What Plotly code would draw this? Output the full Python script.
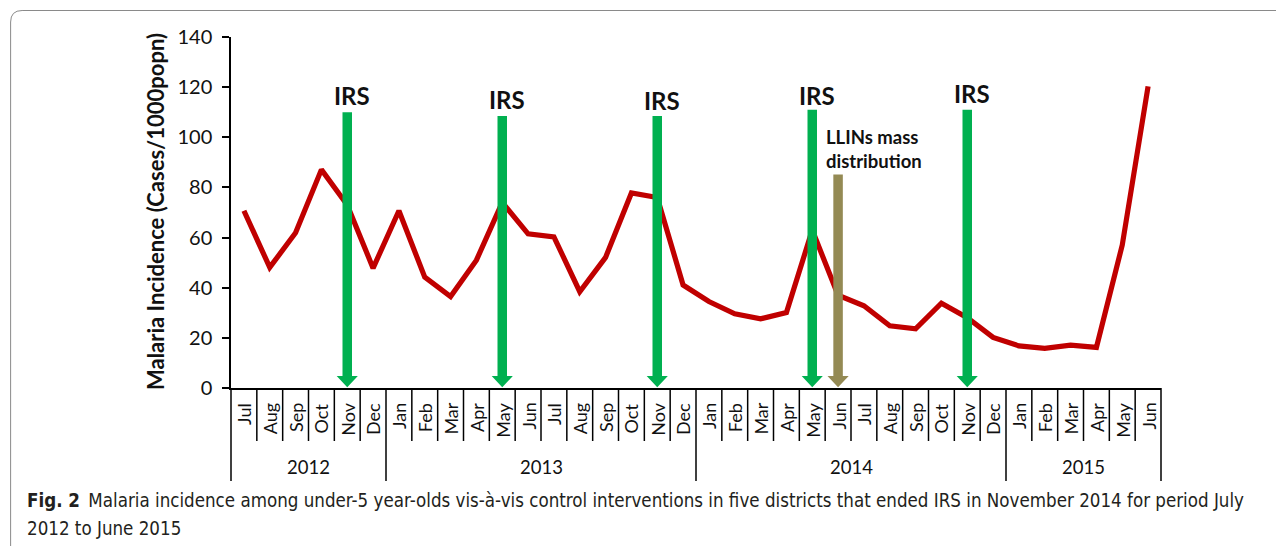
import plotly.graph_objects as go

# ---------------- data ----------------
months = ["Jul", "Aug", "Sep", "Oct", "Nov", "Dec",
          "Jan", "Feb", "Mar", "Apr", "May", "Jun", "Jul", "Aug", "Sep", "Oct", "Nov", "Dec",
          "Jan", "Feb", "Mar", "Apr", "May", "Jun", "Jul", "Aug", "Sep", "Oct", "Nov", "Dec",
          "Jan", "Feb", "Mar", "Apr", "May", "Jun"]
years = ["2012"] * 6 + ["2013"] * 12 + ["2014"] * 12 + ["2015"] * 6
incidence = [70.7, 48.1, 61.9, 87.1, 73.0, 47.8,
             70.7, 44.2, 36.5, 51.0, 74.0, 61.5, 60.3, 38.4, 52.1, 77.8, 76.0, 41.1,
             34.5, 29.6, 27.6, 30.1, 63.0, 37.0, 32.8, 24.8, 23.6, 33.8, 28.0, 20.2,
             16.8, 15.8, 17.1, 16.2, 57.0, 120.3]

irs_dates = [("Nov", "2012"), ("May", "2013"), ("Nov", "2013"), ("May", "2014"), ("Nov", "2014")]
irs_tops = [110.0, 108.5, 108.5, 111.0, 111.0]
irs_label_y = [116.5, 115.0, 114.6, 116.5, 117.3]
irs_label = "IRS"

llin_date = ("Jun", "2014")
llin_top = 85.2
llin_label = "LLINs mass<br>distribution"
llin_label_y = 95.5

y_title = "Malaria Incidence (Cases/1000popn)"
caption_bold = "Fig. 2"
caption_line1 = ("Malaria incidence among under-5 year-olds vis-à-vis control interventions "
                 "in five districts that ended IRS in November 2014 for period July")
caption_line2 = "2012 to June 2015"

# ---------------- layout geometry (screen px; page body has an 8px margin) ----------------
OFF = 8
W, H = 1284 - OFF, 546 - OFF
L, R, T, B = 231, 1161.5, 37, 388
XMIN, XMAX = -0.5, len(months) - 0.5


def px_x(px):
    return (px - L) / (R - L)


def px_y(py):
    return (B - py) / (B - T)


def xpaper(v):
    return (v - XMIN) / (XMAX - XMIN)


FONT = "Lato, 'Noto Sans', sans-serif"
CAPFONT = "'Liberation Sans Narrow', 'DejaVu Sans Condensed', 'Noto Sans', sans-serif"
keys = list(zip(months, years))
xs = list(range(len(months)))

fig = go.Figure()
fig.add_trace(go.Scatter(x=xs, y=incidence, mode="lines",
                         line=dict(color="#c00000", width=5.2),
                         hoverinfo="skip", showlegend=False))

shapes = []
annotations = []


def add_arrow(idx, top, color):
    shapes.append(dict(type="line", xref="x", yref="y", x0=idx, x1=idx, y0=4.6, y1=top,
                       line=dict(color=color, width=9.5), layer="above"))
    shapes.append(dict(type="path", xref="x", yref="y",
                       path=f"M {idx-0.41},{4.8} L {idx+0.41},{4.8} L {idx},{0.3} Z",
                       fillcolor=color, line=dict(width=0), layer="above"))


for d, top, ly in zip(irs_dates, irs_tops, irs_label_y):
    idx = keys.index(d)
    add_arrow(idx, top, "#00b050")
    annotations.append(dict(x=idx, y=ly, xref="x", yref="y", text=f"<b>{irs_label}</b>",
                            showarrow=False, xshift=5,
                            font=dict(family=FONT, size=24, color="#111")))

li = keys.index(llin_date)
add_arrow(li, llin_top, "#948a54")
annotations.append(dict(x=li, y=llin_label_y, xref="x", yref="y",
                        text=f"<b>{llin_label}</b>", showarrow=False, align="left",
                        xanchor="left", xshift=-14,
                        font=dict(family=FONT, size=18.5, color="#111")))

# month tick lines and labels below axis
for b in range(len(months) + 1):
    is_year = b == 0 or b == len(months) or years[b] != years[b - 1]
    bottom = 481 if is_year else 441
    shapes.append(dict(type="line", xref="paper", yref="paper",
                       x0=xpaper(b - 0.5), x1=xpaper(b - 0.5), y0=px_y(B), y1=px_y(bottom),
                       line=dict(color="black", width=1.5)))

for i, m in enumerate(months):
    annotations.append(dict(x=i, y=px_y(401), xref="x", yref="paper", text=m,
                            showarrow=False, textangle=-90, yanchor="top",
                            font=dict(family=FONT, size=18, color="#111")))

for yr in sorted(set(years)):
    ids = [i for i, y in enumerate(years) if y == yr]
    annotations.append(dict(x=(ids[0] + ids[-1]) / 2, y=px_y(467), xref="x", yref="paper",
                            text=yr, showarrow=False, yanchor="middle",
                            font=dict(family=FONT, size=18.5, color="#111")))

# y-axis title
annotations.append(dict(x=px_x(155), y=px_y(212), xref="paper", yref="paper",
                        xanchor="center", yanchor="middle",
                        text=f"<b>{y_title}</b>", showarrow=False, textangle=-90,
                        font=dict(family=FONT, size=22, color="#111")))

# caption
annotations.append(dict(x=px_x(25), y=px_y(501), xref="paper", yref="paper",
                        xanchor="left", yanchor="middle", showarrow=False,
                        text=f"<b>{caption_bold}</b>\u2002{caption_line1}",
                        font=dict(family=CAPFONT, size=18.6, color="#231f20")))
annotations.append(dict(x=px_x(25), y=px_y(528), xref="paper", yref="paper",
                        xanchor="left", yanchor="middle", showarrow=False,
                        text=caption_line2,
                        font=dict(family=CAPFONT, size=18.6, color="#231f20")))

# outer rounded frame
shapes.append(dict(type="path", xref="paper", yref="paper",
                   path=(f"M {px_x(1300)},{px_y(10.5)} L {px_x(22)},{px_y(10.5)} "
                         f"Q {px_x(10.5)},{px_y(10.5)} {px_x(10.5)},{px_y(22)} "
                         f"L {px_x(10.5)},{px_y(560)}"),
                   line=dict(color="#8a8a8a", width=1)))

fig.update_layout(
    width=W, height=H,
    margin=dict(l=L - OFF, r=W - (R - OFF), t=T - OFF, b=H - (B - OFF), autoexpand=False),
    paper_bgcolor="white", plot_bgcolor="white",
    shapes=shapes, annotations=annotations,
    showlegend=False,
    xaxis=dict(range=[XMIN, XMAX], showline=True, linecolor="black", linewidth=1.5,
               showticklabels=False, ticks="", showgrid=False, zeroline=False),
    yaxis=dict(range=[0, 140], dtick=20, ticks="outside", ticklen=7, tickwidth=1.5,
               tickcolor="black", showline=True, linecolor="black", linewidth=1.5,
               showgrid=False, zeroline=False, ticklabelstandoff=6,
               tickfont=dict(family=FONT, size=20, color="#111")),
)

fig.write_html("out.html")
